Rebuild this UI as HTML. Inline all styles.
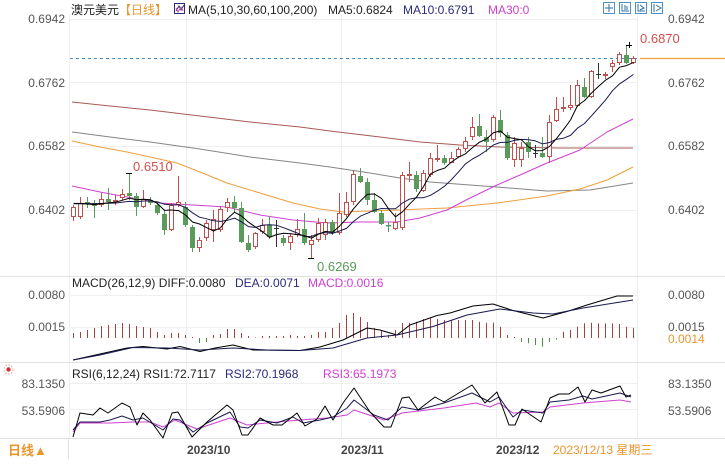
<!DOCTYPE html>
<html><head><meta charset="utf-8">
<style>
html,body{margin:0;padding:0;background:#fff;}
body{width:725px;height:459px;overflow:hidden;position:relative;}
svg text{font-family:"Liberation Sans","Noto Sans CJK SC",sans-serif;font-size:12px;}
</style></head><body>
<svg id="c" width="725" height="459" xmlns="http://www.w3.org/2000/svg">
<g stroke="#efefef" stroke-width="1">
<line x1="69.5" y1="15" x2="69.5" y2="438"/>
<line x1="186.5" y1="15" x2="186.5" y2="438"/>
<line x1="341.5" y1="15" x2="341.5" y2="438"/>
<line x1="496.5" y1="15" x2="496.5" y2="438"/>
<line x1="637.5" y1="15" x2="637.5" y2="438"/>
<line x1="70" y1="19.5" x2="637" y2="19.5"/>
<line x1="70" y1="82.5" x2="637" y2="82.5"/>
<line x1="70" y1="146.5" x2="637" y2="146.5"/>
<line x1="70" y1="210.5" x2="637" y2="210.5"/>
<line x1="70" y1="295.5" x2="637" y2="295.5"/>
<line x1="70" y1="327.5" x2="637" y2="327.5"/>
<line x1="70" y1="383.5" x2="637" y2="383.5"/>
<line x1="70" y1="409.5" x2="637" y2="409.5"/>
</g>
<g stroke="#e2e2e2" stroke-width="1">
<line x1="0" y1="276.5" x2="725" y2="276.5"/>
<line x1="0" y1="362.5" x2="725" y2="362.5"/>
<line x1="0" y1="438.5" x2="725" y2="438.5"/>
<line x1="68.5" y1="439" x2="68.5" y2="459"/>
</g>
<!-- header -->
<text x="71" y="14" fill="#222">澳元美元</text>
<text x="119" y="14" fill="#e8962e">【日线】</text>
<rect x="174.5" y="3.5" width="10" height="10" fill="#fff" stroke="#2b2b7a"/>
<polyline points="176,11 179,6 181,10 184,5" fill="none" stroke="#2b2b7a"/>
<polyline points="176,8 178,12 181,7 183,11" fill="none" stroke="#c05090"/>
<text x="188" y="14" fill="#222">MA(5,10,30,60,100,200)</text>
<text x="328" y="14" fill="#222">MA5:0.6824</text>
<text x="403" y="14" fill="#2b2b7a">MA10:0.6791</text>
<text x="488" y="14" fill="#d23fd2">MA30:0</text>
<g fill="#fff" stroke="#4a8fc8">
<rect x="603.5" y="2.5" width="11" height="11"/>
<rect x="619.5" y="2.5" width="11" height="11"/>
<rect x="635.5" y="2.5" width="11" height="11"/>
<rect x="651.5" y="2.5" width="11" height="11"/>
</g>
<g stroke="#2a6fa8" fill="none">
<line x1="609" y1="4" x2="609" y2="12"/><line x1="605" y1="8" x2="613" y2="8"/>
<polyline points="622,4 622,11 629,11"/><line x1="625" y1="5" x2="625" y2="10"/><line x1="627" y1="6" x2="627" y2="10"/>
<polyline points="638,4 638,11 645,11"/><polyline points="640,5 644,8 640,10"/>
<line x1="654" y1="4" x2="654" y2="12"/><polyline points="656,5 661,8 656,11"/>
</g>
<!-- axis labels -->
<g fill="#555" text-anchor="end">
<text x="65" y="23">0.6942</text>
<text x="65" y="87">0.6762</text>
<text x="65" y="150">0.6582</text>
<text x="65" y="214">0.6402</text>
<text x="65" y="299">0.0080</text>
<text x="65" y="331">0.0015</text>
<text x="65" y="388">83.1350</text>
<text x="65" y="415">53.5906</text>
</g>
<g fill="#555">
<text x="668" y="23">0.6942</text>
<text x="668" y="87">0.6762</text>
<text x="668" y="150">0.6582</text>
<text x="668" y="214">0.6402</text>
<text x="668" y="299">0.0080</text>
<text x="668" y="331">0.0015</text>
<text x="668" y="388">83.1350</text>
<text x="668" y="415">53.5906</text>
</g>
<rect x="666" y="333" width="40" height="12" fill="#fff"/>
<text x="668" y="343" fill="#e8962e">0.0014</text>
<!-- current price line -->
<line x1="70" y1="58.5" x2="637" y2="58.5" stroke="#4a8fc0" stroke-dasharray="3,3"/>
<line x1="640" y1="58.5" x2="725" y2="58.5" stroke="#eca040" stroke-width="1.2"/>
<!-- panel legends -->
<text x="72" y="287" fill="#222">MACD(26,12,9) DIFF:0.0080</text>
<text x="235" y="287" fill="#2b2b7a">DEA:0.0071</text>
<text x="308" y="287" fill="#d23fd2">MACD:0.0016</text>
<circle cx="8.5" cy="369.5" r="4.5" fill="none" stroke="#f0a0a0" stroke-dasharray="1.5,1.5"/>
<circle cx="8.5" cy="369.5" r="2.2" fill="#d03030"/>
<text x="72" y="378" fill="#222">RSI(6,12,24) RSI1:72.7117</text>
<text x="225" y="378" fill="#2b2b7a">RSI2:70.1968</text>
<text x="323" y="378" fill="#d23fd2">RSI3:65.1973</text>
<!-- bottom -->
<text x="8" y="455" fill="#e8962e" style="font-size:13px;font-weight:bold">日线▲</text>
<g fill="#444" style="font-weight:bold">
<text x="187" y="454">2023/10</text>
<text x="341" y="454">2023/11</text>
<text x="496" y="454">2023/12</text>
</g>
<text x="553" y="454" fill="#e8962e">2023/12/13 星期三</text>
<g id="dyn"></g>
<!-- price annotations -->
<text x="640" y="43" fill="#d0504a" style="font-size:13px">0.6870</text>
<text x="133" y="171" fill="#d0504a" style="font-size:13px">0.6510</text>
<text x="317" y="271" fill="#5a9a5a" style="font-size:13px">0.6269</text>
</svg>
<script>
var C=[
['R',207,217,205,221],['R',203,217,197,219],['G',202,204,197,208],['G',203,206,200,218],['R',199,205,193,207],
['G',199,202,188,210],['R',200,202,195,205],['R',194,198,189,200],['G',193,196,173,200],['G',196,207,193,216],
['R',199,207,190,208],['G',200,203,197,205],['G',205,213,202,215],['G',214,230,210,235],['R',205,230,203,231],
['R',202,205,176,207],['G',207,225,202,227],['G',227,248,225,252],['R',240,248,237,252],['R',223,238,220,241],
['R',219,230,210,242],['R',209,230,206,232],['R',202,208,198,212],['G',202,208,196,213],['G',208,242,202,243],
['G',243,250,235,252],['R',233,247,232,249],['R',225,232,219,234],['G',225,237,216,239],['D',228,228,220,247],
['G',238,243,235,246],['R',236,243,233,250],['R',229,235,219,237],['G',229,243,213,245],['R',240,245,235,258],
['R',223,240,218,242],['R',222,235,219,240],['G',222,233,220,235],['R',213,233,193,235],['R',202,215,192,217],
['R',174,202,170,205],['G',176,182,168,183],['G',182,200,178,205],['G',200,212,193,213],['G',213,224,210,225],
['G',225,226,222,232],['R',222,229,213,230],['R',175,228,172,230],['R',174,176,162,182],['G',175,189,171,192],
['R',173,191,170,192],['R',158,175,153,177],['R',158,160,145,162],['G',158,163,155,165],['R',158,163,152,163],
['R',149,157,147,158],['R',141,149,137,152],['R',127,137,117,140],['G',126,136,114,137],['G',137,142,130,152],
['R',117,140,115,142],['G',120,133,110,137],['G',135,158,132,160],['R',143,160,137,167],['R',148,160,142,167],
['G',142,152,137,158],['D',153,153,145,158],['G',153,157,137,158],['R',122,157,115,163],['R',109,121,97,122],
['R',107,108,97,112],['R',105,108,85,110],['R',85,106,80,107],['G',87,97,78,98],['R',71,97,70,98],
['D',74,74,63,79],['R',74,76,72,79],['R',63,67,60,72],['R',54,63,52,65],['G',55,63,45,64],['R',58,63,56,64]
];
var S=[];
function P(pts,col,w){S.push('<polyline points="'+pts.map(function(p){return p[0]+','+p[1]}).join(' ')+'" fill="none" stroke="'+col+'" stroke-width="'+(w||1)+'" stroke-linejoin="round"/>');}
function L(x1,y1,x2,y2,col){S.push('<line x1="'+x1+'" y1="'+y1+'" x2="'+x2+'" y2="'+y2+'" stroke="'+col+'"/>');}
// long MAs
P([[72,102],[110,106],[150,110],[200,116],[250,122],[300,127],[330,131],[380,137],[420,142],[460,145],[500,147],[560,148],[633,148]],'#a85a55');
P([[72,132],[110,137],[150,142],[200,149],[250,157],[300,163],[330,167],[370,173],[400,178],[430,182],[470,185],[497,187],[547,191],[590,190],[633,183]],'#858585');
P([[72,141],[100,147],[127,152],[150,157],[177,163],[200,172],[227,183],[260,193],[293,203],[320,209],[343,212],[397,210],[447,208],[497,203],[547,196],[580,189],[607,180],[633,167]],'#eca040');
P([[72,186],[100,192],[127,197],[160,203],[193,205],[227,207],[260,215],[293,220],[327,223],[360,222],[397,222],[420,218],[447,210],[470,198],[497,185],[520,175],[547,163],[580,150],[607,132],[633,119]],'#d040d0');
var RED='#c0504d',GR='#5a9a5a';
var closes=[];
for(var i=0;i<C.length;i++){
 var c=C[i],xc=73+7*i,x=xc+0.5,t=c[0],bt=c[1],bb=c[2],wt=c[3],wb=c[4];
 if(t=='R'){
  closes.push(bt);
  if(wt<bt)L(x,wt,x,bt,RED);
  if(wb>bb)L(x,bb,x,wb,RED);
  S.push('<rect x="'+(xc-1.5)+'" y="'+(bt+0.5)+'" width="4" height="'+Math.max(bb-bt-1,1)+'" fill="#fff" stroke="'+RED+'"/>');
 }else if(t=='G'){
  closes.push(bb);
  L(x,wt,x,wb,GR);
  S.push('<rect x="'+(xc-2)+'" y="'+bt+'" width="5" height="'+Math.max(bb-bt,1.5)+'" fill="'+GR+'"/>');
 }else{
  closes.push(bt);
  L(x,wt,x,wb,'#333');
  L(xc-2,bt+0.5,xc+3,bt+0.5,'#333');
 }
}
// extreme markers
L(626,45.5,632,45.5,'#000');L(629.5,42,629.5,48,'#000');
L(126,173.5,132,173.5,'#000');
L(308,258.5,314,258.5,'#000');
// MA5, MA10
function ma(n){var pts=[];for(var i=0;i<closes.length;i++){var s=0;for(var k=i-n+1;k<=i;k++){s+=(k<0?203:closes[k]);}pts.push([73.5+7*i,(s/n).toFixed(1)]);}return pts;}
P(ma(10),'#1a1a50');
P(ma(5),'#000');
// MACD histogram
var H=[333,332,330,328,326,325,324,323,324,326,327,328,332,335,333,333,335,337,343,342,335,334,329,329,333,336,337.5,336,336,336,336,335,336,336,335,332,332,328,323,315,313,317,322,328,330,335,330,323,322.7,321.7,319,318,319,320,320,320,320,320,321.7,322.7,322.7,326.7,335,337,341.7,343.3,345,346.7,341.7,339.5,331.7,330,326.7,323.3,322.7,323.3,323.3,323.3,324,326.7,328.3];
for(var i=0;i<H.length;i++){var x=73.5+7*i,v=H[i];
 if(v>=338){L(x,338,x,v,'#4e8a4e');}else{L(x,v,x,338,'#a84040');}}
P([[73,360],[100,354],[127,348],[143,346.5],[167,349],[180,346.5],[200,351.5],[215,348],[233,345],[253,350],[300,350.5],[320,347],[343,340],[367,328],[380,330],[397,335],[410,325],[437,315.5],[450,313],[473,306],[493,304],[513,310.5],[543,318],[567,311.5],[587,305],[617,296],[633,296]],'#000');
P([[73,360],[100,355],[133,347.5],[167,348],[200,350],[233,348],[267,350],[300,350.5],[333,348],[367,338],[397,335],[433,326.5],[467,315],[500,309],[533,313],[553,314],[583,308],[633,300]],'#1a1a50');
// RSI
P([[73,432],[80,423],[110,423],[133,422],[150,422],[163,427],[175,420],[197,429],[230,418],[247,425],[277,422],[300,420],[327,418],[347,415],[354,410],[384,420],[402,413],[444,408],[476,403],[490,407],[499,403],[513,413],[543,412],[550,407],[583,403],[620,400],[631,402]],'#d040d0');
P([[73,430],[80,422],[100,422],[110,420],[122,416],[133,420],[143,418],[163,430],[173,419],[180,420],[193,432],[207,423],[230,412],[240,427],[248,428],[260,420],[277,423],[293,417],[303,423],[320,420],[333,417],[347,408],[354,400],[374,415],[388,420],[402,407],[418,410],[444,403],[472,393],[490,402],[499,397],[513,417],[522,410],[543,413],[550,402],[569,400],[583,396],[592,399],[620,393],[631,397]],'#1a1a50');
P([[73,437],[80,413],[93,415],[100,408],[108,413],[115,408],[122,403],[130,407],[137,425],[143,413],[150,420],[163,438],[172,413],[178,412],[192,437],[207,422],[227,405],[233,410],[242,435],[248,435],[260,418],[273,425],[282,425],[297,413],[305,426],[317,419],[325,406],[333,420],[343,403],[354,388],[370,412],[384,427],[391,427],[402,398],[409,397],[418,410],[435,397],[444,402],[472,385],[485,403],[497,392],[509,425],[515,425],[522,409],[541,422],[550,398],[559,394],[569,394],[578,387],[585,402],[592,390],[601,393],[620,386],[626,397],[631,395]],'#000');
document.getElementById('dyn').innerHTML=S.join('');
</script>
</body></html>
